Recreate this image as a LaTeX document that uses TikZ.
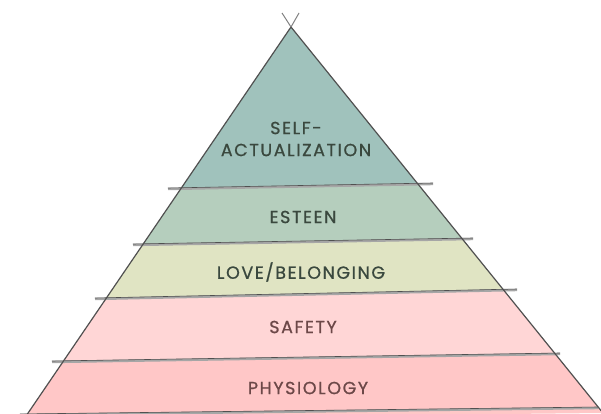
\documentclass[tikz,border=0pt]{standalone}
\usepackage{fontspec}
\newfontfamily\handfont[LetterSpace=9, FakeBold=0.8]{Poppins}
\definecolor{selfcol}{RGB}{160,194,188}
\definecolor{esteemcol}{RGB}{181,206,189}
\definecolor{lovecol}{RGB}{224,228,195}
\definecolor{safetycol}{RGB}{255,214,214}
\definecolor{physiocol}{RGB}{255,199,199}
\definecolor{greentext}{RGB}{58,72,62}
\definecolor{redtext}{RGB}{108,72,72}
\definecolor{inkgrey}{RGB}{80,80,80}
\begin{document}
\begin{tikzpicture}[x=1pt, y=-1pt,
    lbl/.style={font=\handfont\fontsize{17.5}{22}\selectfont, align=center},
    edge/.style={draw=inkgrey, line width=1.2pt, line cap=round}]
        \useasboundingbox (0,0) rectangle (601,414);
        \coordinate (apex) at (291,27);
        \coordinate (bl) at (24,419);
        \coordinate (br) at (603,413);

        % bands, clipped to the triangle
        \begin{scope}
        \clip (apex) -- (bl) -- (br) -- cycle;
        \foreach \ya/\yb/\yc/\yd/\col in {0/0/192.2/180.9/selfcol, 192.2/180.9/247.3/236.7/esteemcol,
            247.3/236.7/301/288.2/lovecol, 301/288.2/362.8/353.4/safetycol, 362.8/353.4/420/420/physiocol}
        {
        \fill[\col] (0,\ya) -- (601,\yb) -- (601,\yd) -- (0,\yc) -- cycle;
        }
        \end{scope}

        % dividers, a little longer than the band
        \foreach \xa/\ya/\xb/\yb in {168/189/433/184, 133/245/473/239, 95/299/517/290, 52/362/560/354, 20/415/598/408}
        {
        \draw[gray!70, line width=2.4pt] (\xa,\ya) -- (\xb,\yb);
        \draw[inkgrey, line width=0.6pt] (\xa,\ya-1) -- (\xb,\yb-1);
        }

        % sides, crossing over the apex
        \draw[edge] (bl) -- (apex);
        \draw[edge] (br) -- (apex);
        \draw[gray, line width=1pt] (apex) -- (299,13);
        \draw[gray, line width=1pt] (apex) -- (282,13);

        \node[lbl, text=greentext] (selfact) at (296,139) {SELF-\\ACTUALIZATION};
        \node[lbl, text=greentext] (esteem) at (303,217) {ESTEEN};
        \node[lbl, text=greentext] (love) at (301,272) {LOVE/BELONGING};
        \node[lbl, text=redtext] (safety) at (303,327) {SAFETY};
        \node[lbl, text=redtext] (physio) at (308,388) {PHYSIOLOGY};
    \end{tikzpicture}
\end{document}
